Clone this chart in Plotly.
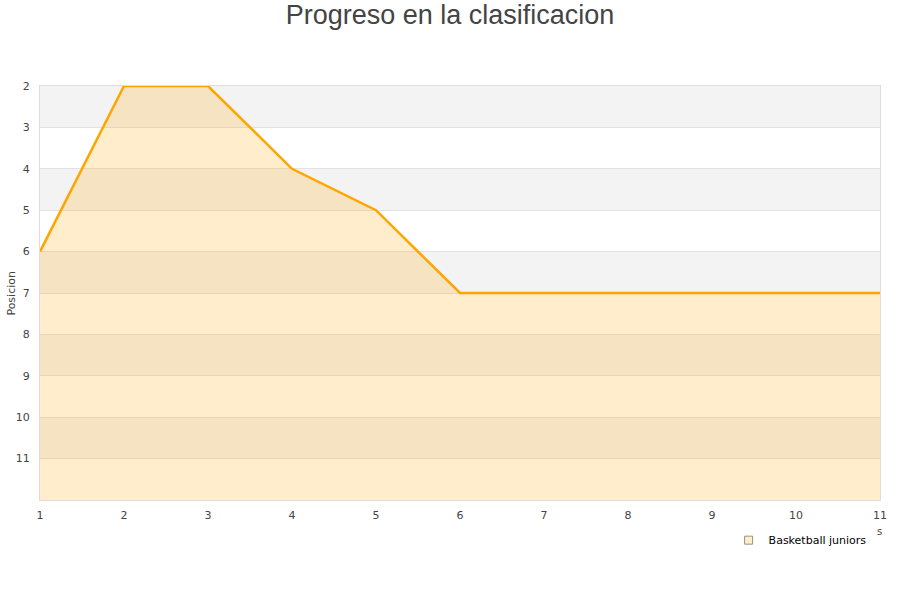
import plotly.graph_objects as go

jornadas = [1, 2, 3, 4, 5, 6, 7, 8, 9, 10, 11]
posicion = [6, 2, 2, 4, 5, 7, 7, 7, 7, 7, 7]
y_ticks = [2, 3, 4, 5, 6, 7, 8, 9, 10, 11]
y_bottom = 12
series_name = "Basketball juniors"

fig = go.Figure()
fig.add_trace(go.Scatter(x=jornadas, y=[y_bottom] * len(jornadas), mode="lines",
                         line=dict(width=0, color="rgba(0,0,0,0)"), showlegend=False,
                         hoverinfo="skip"))
fig.add_trace(go.Scatter(x=jornadas, y=posicion, mode="lines", name=series_name,
                         fill="tonexty", fillcolor="rgba(255,165,0,0.2)",
                         line=dict(color="#ffa500", width=2.5), showlegend=False))
fig.add_trace(go.Scatter(x=[None], y=[None], mode="markers", name=series_name,
                         marker=dict(symbol="square", size=8, color="#ffedcc",
                                     line=dict(color="#9a8f80", width=1))))

shapes = []
for lo in [2, 4, 6, 8, 10]:
    shapes.append(dict(type="rect", xref="paper", yref="y", x0=0, x1=1, y0=lo, y1=lo + 1,
                       fillcolor="#f3f3f3", line=dict(width=0), layer="below"))
fig.update_layout(
    width=900, height=600,
    margin=dict(l=40, r=20, t=86, b=100, autoexpand=False),
    paper_bgcolor="white", plot_bgcolor="white",
    title=dict(text="Progreso en la clasificacion", x=0.5, xanchor="center", y=0.976, yanchor="middle",
               font=dict(family="Liberation Sans, Arial", size=27, color="#444444")),
    shapes=shapes,
    font=dict(family="DejaVu Sans", size=11, color="#444444"),
    xaxis=dict(range=[1, 11], tickvals=jornadas, showgrid=False, zeroline=False,
               showline=True, linecolor="#dddddd", mirror=True, ticks="", ticklen=0,
               ticklabelstandoff=5,
               automargin=False, tickfont=dict(size=11, color="#444444")),
    yaxis=dict(range=[12, 2], tickvals=y_ticks, showgrid=True, gridcolor="#e2e2e2",
               zeroline=False, showline=True, linecolor="#dddddd", mirror=True,
               ticks="", ticklabelstandoff=7,
               automargin=False, tickfont=dict(size=11, color="#444444")),
    legend=dict(x=0.99, xanchor="right", y=-0.097, yanchor="middle",
                font=dict(family="DejaVu Sans", size=11, color="#000000"),
                bgcolor="rgba(0,0,0,0)", itemwidth=30),
    showlegend=True,
    annotations=[
        dict(text="s", xref="paper", yref="paper", x=0.9995, y=-0.075,
             xanchor="center", yanchor="middle",
             showarrow=False, font=dict(size=10, color="#444444")),
        dict(text="Posicion", xref="paper", yref="paper", x=-0.035, y=0.5, textangle=-90,
             xanchor="center", yanchor="middle", showarrow=False,
             font=dict(size=11, color="#444444")),
    ],
)
fig.write_html("out.html", post_script="document.body.style.margin='0';",
               config={"displayModeBar": False})
